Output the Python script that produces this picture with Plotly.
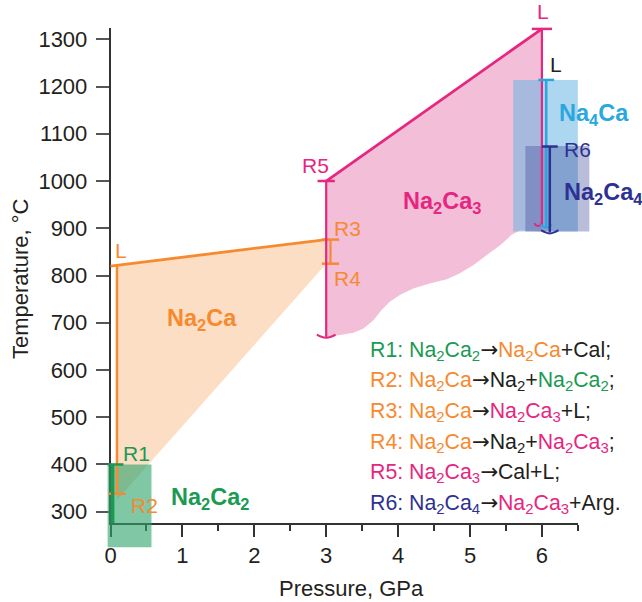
import plotly.graph_objects as go

# ---------------- data ----------------
p_tickvals = [0, 1, 2, 3, 4, 5, 6]
t_tickvals = [300, 400, 500, 600, 700, 800, 900, 1000, 1100, 1200, 1300]

# Na2Ca (orange) stability field
na2ca_p = [0.09, 3.0, 3.0, 0.09]
na2ca_t = [820, 876, 825, 325]
# Na2Ca2 (green) field
na2ca2_p = [-0.04, 0.57, 0.57, -0.04]
na2ca2_t = [400, 400, 225, 225]
# Na2Ca3 (pink) field: upper (melting) boundary and lower wavy edge
na2ca3_top_p = [3.0, 6.0]
na2ca3_top_t = [1000, 1322]
na2ca3_low_p = [3.0, 3.19, 3.38, 3.52, 3.66, 3.77, 3.89, 4.03, 4.22, 4.44, 4.68, 4.86, 5.05, 5.23, 5.42, 5.58, 5.70, 6.0]
na2ca3_low_t = [670, 674, 679, 688, 706, 727, 745, 759, 773, 783, 792, 805, 822, 843, 864, 886, 896, 893]
# Na4Ca (light blue) and Na2Ca4 (dark blue) fields
na4ca_p = [5.6, 6.5]
na4ca_t = [893, 1214]
na2ca4_p = [5.77, 6.66]
na2ca4_t = [893, 1074]

# reaction boundaries / brackets
liq_orange_p = [0.0, 3.0]
liq_orange_t = [820, 876]
orange_vert_p = 0.09
orange_vert_t = [820, 338]
green_vert_p = 0.03
green_vert_t = [400, 276]
r34_p = 3.06
r1_t, r2_t, r3_t, r4_t, r5_t, r6_t = 400, 338, 876, 825, 1000, 1073
pink3_t = [1000, 670]
pink6_t = [1322, 906]
na4ca_line_p = 6.06
na4ca_line_t = [1214, 903]
na2ca4_line_p = 6.11
na2ca4_line_t = [1073, 891]

# ---------------- style ----------------
GREEN = "#1b9a52"
ORANGE = "#f7892f"
PINK = "#e6267f"
LBLUE = "#29a8e0"
DBLUE = "#2e3192"
BLACK = "#231f20"
FONT = "Liberation Sans, Arial, Helvetica, sans-serif"

W, H = 642, 602
PX0, PXU = 110.5, 71.9          # pixel of P=0, pixels per GPa
PY300, PYU = 511.7, 0.4724      # pixel of T=300, pixels per degree

x2_range = [(0 - PX0) / PXU, (W - PX0) / PXU]
y2_range = [300 - (H - PY300) / PYU, 300 + PY300 / PYU]
x_range = [0, 6.5]
y_range = [276, 1323]
x_dom = [PX0 / W, (PX0 + x_range[1] * PXU) / W]
y_dom = [(H - (PY300 + (300 - y_range[0]) * PYU)) / H,
         (H - (PY300 - (y_range[1] - 300) * PYU)) / H]

fig = go.Figure()


def poly(xs, ys, fill, axes=("x2", "y2")):
    fig.add_trace(go.Scatter(x=xs, y=ys, mode="lines", fill="toself", fillcolor=fill,
                             line=dict(width=0), xaxis=axes[0], yaxis=axes[1],
                             hoverinfo="skip", showlegend=False))


def seg(xs, ys, color, width=2.5, shape="linear"):
    fig.add_trace(go.Scatter(x=xs, y=ys, mode="lines", line=dict(color=color, width=width, shape=shape),
                             xaxis="x2", yaxis="y2", hoverinfo="skip", showlegend=False))


def tick(xc, t, color, half=0.12, width=2.5):
    seg([xc - half, xc + half], [t, t], color, width)


def brace(xc, t, color, half=0.1, width=2.0, left_only=False):
    if left_only:
        xs = [xc, xc - 0.3 * half, xc - half, xc - 1.3 * half]
        ys = [t + 6, t, t, t + 5]
    else:
        xs = [xc - half, xc - 0.6 * half, xc, xc + 0.6 * half, xc + half]
        ys = [t + 5, t + 1, t - 2, t + 1, t + 5]
    seg(xs, ys, color, width, "spline")


# fields
poly(na2ca_p, na2ca_t, "rgba(245,160,90,0.35)", axes=("x", "y"))
poly(na2ca2_p, na2ca2_t, "rgba(50,165,110,0.62)")
poly(na2ca3_top_p + na2ca3_low_p[::-1], na2ca3_top_t + na2ca3_low_t[::-1], "rgba(225,95,158,0.40)")
poly([na4ca_p[0], na4ca_p[1], na4ca_p[1], na4ca_p[0]], [na4ca_t[0], na4ca_t[0], na4ca_t[1], na4ca_t[1]],
     "rgba(105,180,228,0.55)")
poly([na2ca4_p[0], na2ca4_p[1], na2ca4_p[1], na2ca4_p[0]], [na2ca4_t[0], na2ca4_t[0], na2ca4_t[1], na2ca4_t[1]],
     "rgba(55,65,150,0.35)")

# orange lines
seg(liq_orange_p, liq_orange_t, ORANGE, 2.8)
seg([orange_vert_p, orange_vert_p], orange_vert_t, ORANGE, 2.5)
tick(orange_vert_p, r2_t, ORANGE, 0.12)
seg([r34_p, r34_p], [r3_t, r4_t], ORANGE, 2.2)
tick(r34_p, r3_t, ORANGE, 0.12)
tick(r34_p, r4_t, ORANGE, 0.12)
# green lines
seg([green_vert_p, green_vert_p], green_vert_t, GREEN, 3.5)
tick(green_vert_p + 0.04, r1_t, GREEN, 0.11)
# pink lines
seg(na2ca3_top_p, na2ca3_top_t, PINK, 2.8)
seg([3.0, 3.0], pink3_t, PINK, 2.2)
tick(3.0, r5_t, PINK, 0.12)
brace(3.0, pink3_t[1], PINK, 0.13)
seg([6.0, 6.0], pink6_t, PINK, 2.2)
tick(6.0, pink6_t[0], PINK, 0.14)
brace(6.0, pink6_t[1], PINK, 0.08, left_only=True)
# blue lines
seg([na4ca_line_p, na4ca_line_p], na4ca_line_t, LBLUE, 2.5)
tick(na4ca_line_p, na4ca_line_t[0], LBLUE, 0.11)
brace(na4ca_line_p, na4ca_line_t[1], LBLUE, 0.08)
seg([na2ca4_line_p, na2ca4_line_p], na2ca4_line_t, DBLUE, 2.5)
tick(na2ca4_line_p, r6_t, DBLUE, 0.11)
brace(na2ca4_line_p, na2ca4_line_t[1], DBLUE, 0.12)

# ---------------- labels ----------------
ann = []


def lab(x, y, text, color, size=21, xanchor="center"):
    ann.append(dict(x=x, y=y, xref="x2", yref="y2", text=text, showarrow=False,
                    xanchor=xanchor, yanchor="middle",
                    font=dict(family=FONT, size=size, color=color)))


NA2CA = "Na<sub>2</sub>Ca"
NA2CA2 = "Na<sub>2</sub>Ca<sub>2</sub>"
NA2CA3 = "Na<sub>2</sub>Ca<sub>3</sub>"
NA2CA4 = "Na<sub>2</sub>Ca<sub>4</sub>"
NA4CA = "Na<sub>4</sub>Ca"
ARROW = '<span style="font-family:DejaVu Sans">→</span>'

BOLD = 23.5
lab(0.147, 852, "L", ORANGE)
lab(1.273, 706, f"<b>{NA2CA}</b>", ORANGE, BOLD)
lab(0.362, 423, "R1", GREEN)
lab(0.473, 313, "R2", ORANGE)
lab(1.384, 327, f"<b>{NA2CA2}</b>", GREEN, BOLD)
lab(2.858, 1033, "R5", PINK)
lab(3.303, 900, "R3", ORANGE)
lab(3.303, 794, "R4", ORANGE)
lab(4.61, 955, f"<b>{NA2CA3}</b>", PINK, BOLD)
lab(6.015, 1358, "L", PINK)
lab(6.085, 1246, "L", BLACK, xanchor="left")
lab(6.21, 1140, f"<b>{NA4CA}</b>", LBLUE, BOLD, xanchor="left")
lab(6.274, 1066, "R6", DBLUE, xanchor="left")
lab(6.274, 974, f"<b>{NA2CA4}</b>", DBLUE, BOLD, xanchor="left")


def c(text, color):
    return f'<span style="color:{color}">{text}</span>'


legend_lines = [
    c("R1: " + NA2CA2, GREEN) + ARROW + c(NA2CA, ORANGE) + "+Cal;",
    c("R2: " + NA2CA, ORANGE) + ARROW + "Na<sub>2</sub>+" + c(NA2CA2, GREEN) + ";",
    c("R3: " + NA2CA, ORANGE) + ARROW + c(NA2CA3, PINK) + "+L;",
    c("R4: " + NA2CA, ORANGE) + ARROW + "Na<sub>2</sub>+" + c(NA2CA3, PINK) + ";",
    c("R5: " + NA2CA3, PINK) + ARROW + "Cal+L;",
    c("R6: " + NA2CA4, DBLUE) + ARROW + c(NA2CA3, PINK) + "+Arg.",
]
legend_t = [642, 578, 513, 447, 383, 318]
for txt, t in zip(legend_lines, legend_t):
    lab(3.58, t, txt, BLACK, 21.3, xanchor="left")

# axis titles
ann.append(dict(x=352 / W, y=1 - 588 / H, xref="paper", yref="paper", text="Pressure, GPa",
                showarrow=False, xanchor="center", yanchor="middle",
                font=dict(family=FONT, size=22, color=BLACK)))
ann.append(dict(x=20 / W, y=1 - 279 / H, xref="paper", yref="paper", text="Temperature, °C",
                showarrow=False, xanchor="center", yanchor="middle", textangle=-90,
                font=dict(family=FONT, size=22, color=BLACK)))

fig.update_layout(
    width=W, height=H,
    margin=dict(l=0, r=0, t=0, b=0),
    paper_bgcolor="white", plot_bgcolor="rgba(0,0,0,0)",
    showlegend=False,
    font=dict(family=FONT, size=22, color=BLACK),
    xaxis=dict(domain=x_dom, range=x_range, anchor="y", tickvals=p_tickvals,
               showline=True, linecolor="#333", linewidth=1.5, ticks="outside", ticklen=12,
               tickwidth=1.5, tickcolor="#333", showgrid=False, zeroline=False,
               tickfont=dict(size=22, color=BLACK), automargin=False,
               minor=dict(dtick=0.5, tick0=0, ticks="outside", ticklen=6, tickwidth=1.5, tickcolor="#333",
                          showgrid=False)),
    yaxis=dict(domain=y_dom, range=y_range, anchor="x", tickvals=t_tickvals,
               showline=True, linecolor="#333", linewidth=1.5, ticks="outside", ticklen=13,
               tickwidth=1.5, tickcolor="#555", showgrid=False, zeroline=False,
               ticklabelstandoff=4,
               tickfont=dict(size=22, color=BLACK), automargin=False),
    xaxis2=dict(domain=[0, 1], range=x2_range, anchor="y2", visible=False, showgrid=False, zeroline=False),
    yaxis2=dict(domain=[0, 1], range=y2_range, anchor="x2", visible=False, showgrid=False, zeroline=False),
    annotations=ann,
)

fig.write_html("out.html", config={"displayModeBar": False},
               post_script="document.body.style.margin='0px';")
